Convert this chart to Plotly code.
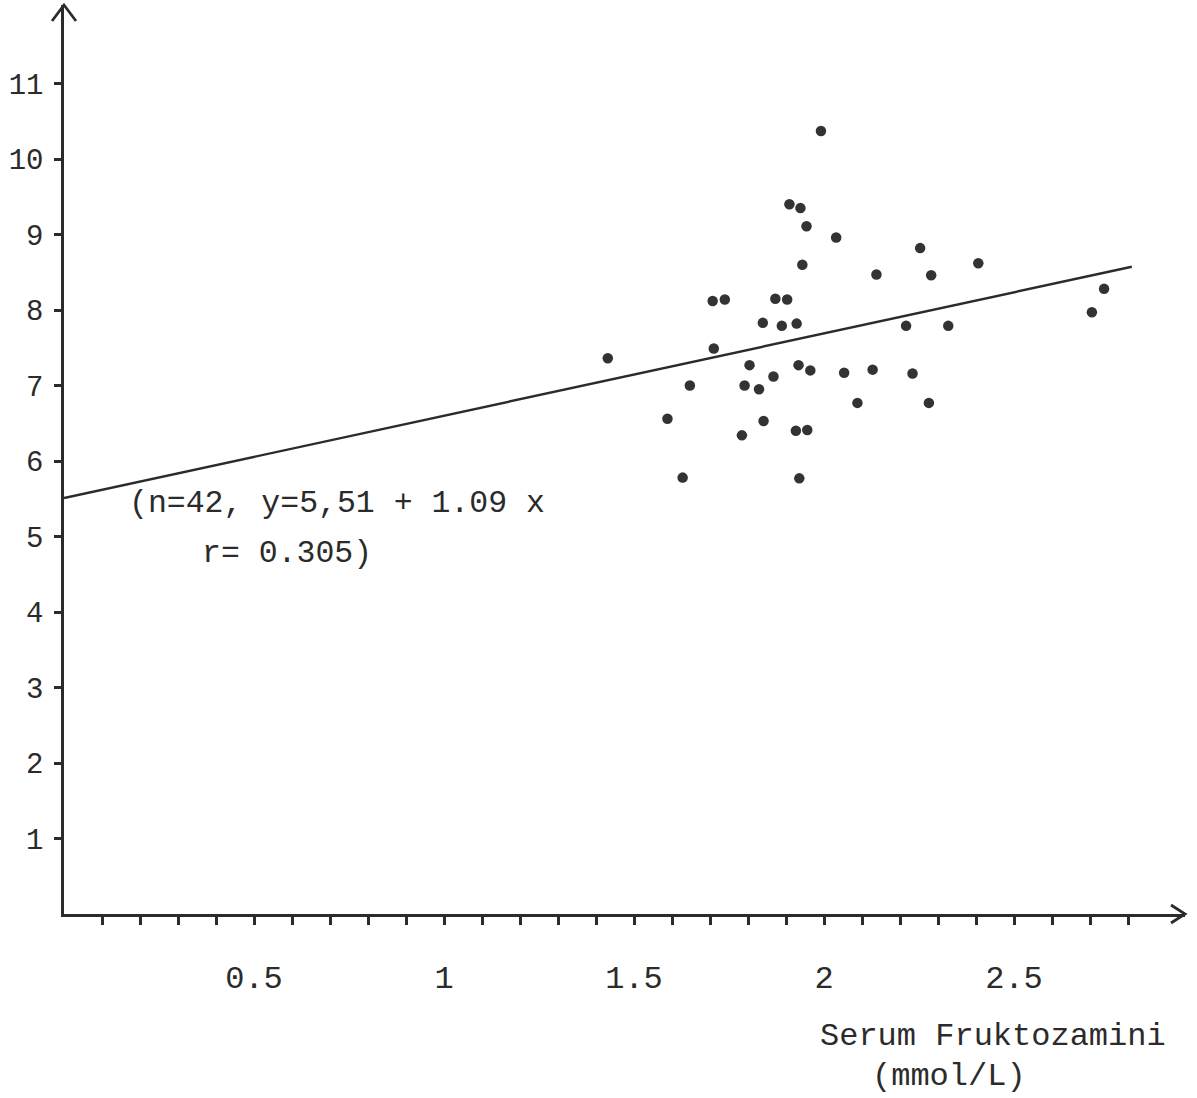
import plotly.graph_objects as go

# Serum fructosamine (mmol/L) vs. y-value, n = 42
fructosamine = [1.992, 1.909, 1.938, 1.954, 2.032, 1.943, 2.138, 1.707, 1.739, 1.872,
                1.903, 1.839, 1.889, 1.928, 1.710, 1.431, 1.804, 1.933, 1.964, 2.053,
                2.128, 1.867, 1.647, 1.791, 1.829, 2.088, 1.588, 1.841, 1.784, 1.926,
                1.956, 1.628, 1.935, 2.253, 2.282, 2.406, 2.737, 2.705, 2.216, 2.327,
                2.233, 2.276]
yvalues = [10.37, 9.40, 9.35, 9.11, 8.96, 8.60, 8.47, 8.12, 8.14, 8.15,
           8.14, 7.83, 7.79, 7.82, 7.49, 7.36, 7.27, 7.27, 7.20, 7.17,
           7.21, 7.12, 7.00, 7.00, 6.95, 6.77, 6.56, 6.53, 6.34, 6.40,
           6.41, 5.78, 5.77, 8.82, 8.46, 8.62, 8.28, 7.97, 7.79, 7.79,
           7.16, 6.77]

intercept = 5.51
slope = 1.09
fit_x = [0.0, 2.81]
fit_y = [intercept + slope * v for v in fit_x]

x_tickvals = [0.5, 1, 1.5, 2, 2.5]
x_ticktext = ["0.5", "1", "1.5", "2", "2.5"]
x_minorvals = [round(0.1 * k, 1) for k in range(1, 29)]
y_tickvals = list(range(1, 12))
y_ticktext = [str(v) for v in y_tickvals]

ink = "#2b2b2b"
FONT = "Liberation Mono"

fig = go.Figure()
fig.add_trace(go.Scatter(x=fit_x, y=fit_y, mode="lines",
                         line=dict(color=ink, width=2.4), hoverinfo="skip"))
fig.add_trace(go.Scatter(x=fructosamine, y=yvalues, mode="markers",
                         marker=dict(size=10.5, color="#333333", line=dict(width=0))))

fig.update_layout(
    width=1197, height=1098,
    margin=dict(l=64, r=12, t=5, b=184),
    paper_bgcolor="white", plot_bgcolor="white",
    showlegend=False,
    font=dict(family=FONT, color=ink, size=30),
    xaxis=dict(range=[0, 2.95], showgrid=False, zeroline=False,
               showline=True, linecolor=ink, linewidth=2.5,
               tickmode="array", tickvals=x_tickvals, ticktext=x_ticktext,
               ticks="outside", ticklen=8, tickwidth=2.5, tickcolor=ink,
               ticklabelstandoff=25,
               tickfont=dict(family=FONT, size=32, color=ink),
               minor=dict(tickmode="array", tickvals=x_minorvals, ticks="outside",
                          ticklen=8, tickwidth=2.5, tickcolor=ink, showgrid=False)),
    yaxis=dict(range=[0, 12.04], showgrid=False, zeroline=False,
               showline=True, linecolor=ink, linewidth=2.5,
               tickmode="array", tickvals=y_tickvals, ticktext=y_ticktext,
               ticks="outside", ticklen=7, tickwidth=2.5, tickcolor=ink,
               ticklabelstandoff=5,
               tickfont=dict(family=FONT, size=29, color=ink)),
)

# open chevron arrowheads at the axis ends
fig.add_shape(type="path", xref="paper", yref="paper",
              xsizemode="pixel", ysizemode="pixel", xanchor=0, yanchor=1,
              path="M -12,-16 L 0,0 L 12,-16",
              line=dict(color=ink, width=2.8))
fig.add_shape(type="path", xref="paper", yref="paper",
              xsizemode="pixel", ysizemode="pixel", xanchor=1, yanchor=0,
              path="M -14,9 L 0,0 L -14,-9",
              line=dict(color=ink, width=2.8))

fig.add_annotation(xref="paper", yref="paper", x=0.0562, y=0.452,
                   xanchor="left", yanchor="middle", showarrow=False,
                   text="(n=42, y=5,51 + 1.09 x", font=dict(family=FONT, size=31.5, color=ink))
fig.add_annotation(xref="paper", yref="paper", x=0.1213, y=0.397,
                   xanchor="left", yanchor="middle", showarrow=False,
                   text="r= 0.305)", font=dict(family=FONT, size=31.5, color=ink))
fig.add_annotation(xref="paper", yref="paper", x=0.6726, y=-0.1353,
                   xanchor="left", yanchor="middle", showarrow=False,
                   text="Serum Fruktozamini", font=dict(family=FONT, size=32, color=ink))
fig.add_annotation(xref="paper", yref="paper", x=0.719, y=-0.1793,
                   xanchor="left", yanchor="middle", showarrow=False,
                   text="(mmol/L)", font=dict(family=FONT, size=32, color=ink))

fig.write_html("out.html")
